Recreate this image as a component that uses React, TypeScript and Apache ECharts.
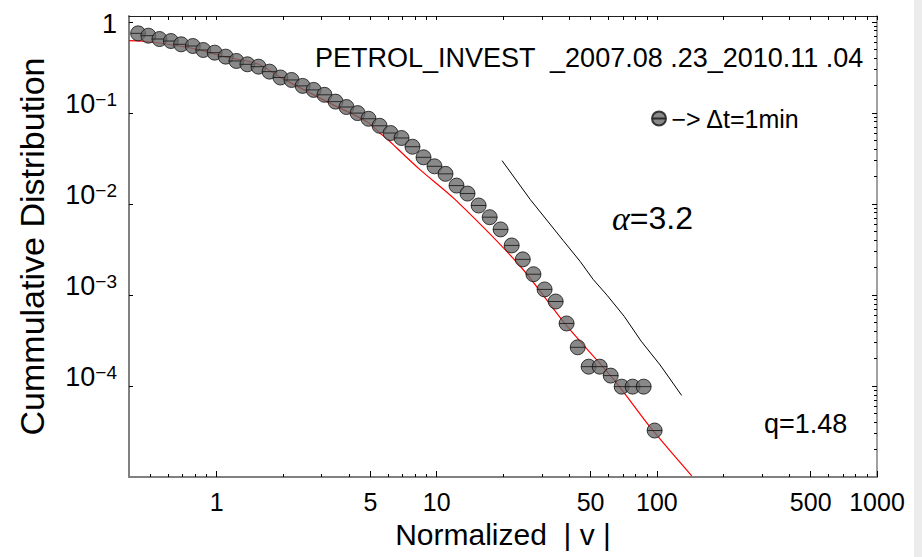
import React, { useEffect, useRef } from "react";
import * as echarts from "echarts";

const xVals = [0.44, 0.49, 0.55, 0.62, 0.69, 0.78, 0.87, 0.98, 1.10, 1.23, 1.38, 1.55, 1.74, 1.95, 2.19, 2.46, 2.76, 3.09, 3.47, 3.89, 4.37, 4.90, 5.50, 6.17, 6.92, 7.76, 8.71, 9.77, 10.96, 12.3, 13.8, 15.5, 17.4, 19.5, 21.9, 24.6, 27.5, 30.9, 34.7, 38.9, 43.7, 49.0, 55.0, 61.7, 69.2, 77.6, 87.1, 97.7];
const yVals = [0.748, 0.705, 0.648, 0.616, 0.567, 0.543, 0.491, 0.459, 0.415, 0.372, 0.342, 0.322, 0.284, 0.245, 0.230, 0.198, 0.179, 0.158, 0.133, 0.116, 0.0995, 0.0862, 0.0722, 0.0601, 0.0530, 0.0425, 0.0325, 0.0259, 0.0214, 0.0159, 0.0130, 0.00961, 0.00715, 0.00525, 0.00350, 0.00246, 0.00169, 0.00115, 0.000847, 0.000486, 0.000266, 0.000163, 0.000163, 0.000130, 0.0000983, 0.0000983, 0.0000983, 0.0000324];

// q-Gaussian fit (red)
const fitX = [0.40, 0.506, 0.77, 1.09, 1.55, 1.96, 3.27, 4.82, 5.52, 6.01, 6.58, 8.39, 12.1, 23.9, 39.0, 63.5, 93.3, 144];
const fitY = [0.621, 0.601, 0.513, 0.415, 0.342, 0.244, 0.128, 0.080, 0.0601, 0.0507, 0.0411, 0.0238, 0.0112, 0.00208, 0.000457, 0.000119, 0.0000353, 0.0000103];

// power-law guide line (alpha = 3.2)
const guideX = [19.8, 26.6, 37.5, 44.8, 51.3, 59.4, 71.0, 84.8, 103.5, 129.6];
const guideY = [0.0299, 0.01117, 0.003973, 0.002339, 0.001486, 0.000992, 0.000584, 0.000311, 0.000170, 0.0000787];

// ticks
const xMajor = [1, 5, 10, 50, 100, 500, 1000];
const xMinor = [0.5, 0.6, 0.7, 0.8, 0.9, 2, 3, 4, 6, 7, 8, 9, 20, 30, 40, 60, 70, 80, 90, 200, 300, 400, 600, 700, 800, 900];
const yMajor = [1, 0.1, 0.01, 0.001, 0.0001];
const yMinor = [
  0.00002, 0.00003, 0.00004, 0.00005, 0.00006, 0.00007, 0.00008, 0.00009,
  0.0002, 0.0003, 0.0004, 0.0005, 0.0006, 0.0007, 0.0008, 0.0009,
  0.002, 0.003, 0.004, 0.005, 0.006, 0.007, 0.008, 0.009,
  0.02, 0.03, 0.04, 0.05, 0.06, 0.07, 0.08, 0.09,
  0.2, 0.3, 0.4, 0.5, 0.6, 0.7, 0.8, 0.9,
];

const titleText = "PETROL_INVEST  _2007.08 .23_2010.11 .04";
const legendName = "\u2212> \u0394t=1min";
const xName = "Normalized  | v |";
const yName = "Cummulative Distribution";

const FONT = "'Liberation Sans', Arial, sans-serif";
const X_MIN = 0.4, X_MAX = 1000, Y_MIN = 1e-5, Y_MAX = 1.16;

export default function App() {
  const ref = useRef<HTMLDivElement>(null);
  useEffect(() => {
    if (!ref.current) return;
    const chart = echarts.init(ref.current, null, { renderer: "svg" });
    const markerPath = "path://M0,7A7,7,0,1,1,14,7A7,7,0,1,1,0,7ZM0,7L14,7";
    const baseX = { type: "log", logBase: 10, min: X_MIN, max: X_MAX, gridIndex: 0, splitLine: { show: false } };
    const baseY = { type: "log", logBase: 10, min: Y_MIN, max: Y_MAX, gridIndex: 0, splitLine: { show: false } };
    chart.setOption({
      animation: false,
      backgroundColor: "#ffffff",
      textStyle: { fontFamily: FONT },
      grid: { left: 129, right: 45, top: 16, bottom: 80, containLabel: false },
      legend: {
        data: [legendName],
        left: 646,
        top: 101,
        itemWidth: 15,
        itemHeight: 14,
        textStyle: { fontFamily: FONT, fontSize: 25, color: "#000" },
      },
      xAxis: [
        {
          ...baseX,
          position: "bottom",
          name: xName,
          nameLocation: "middle",
          nameGap: 42,
          nameTextStyle: { fontFamily: FONT, fontSize: 30, color: "#000" },
          axisLine: { show: true, lineStyle: { color: "#808080", width: 2 } },
          axisTick: { show: true, inside: true, length: 6, customValues: xMajor, lineStyle: { color: "#000", width: 1 } },
          axisLabel: {
            show: true, customValues: xMajor, margin: 12, fontSize: 25, color: "#000", fontFamily: FONT,
            hideOverlap: false,
            formatter: (v: number) => String(Math.round(v)),
          },
        },
        {
          ...baseX,
          position: "bottom",
          axisLine: { show: false },
          axisTick: { show: true, inside: true, length: 3, customValues: xMinor, lineStyle: { color: "#000", width: 1 } },
          axisLabel: { show: false },
        },
        {
          ...baseX,
          position: "top",
          axisLine: { show: true, lineStyle: { color: "#222", width: 1 } },
          axisTick: { show: true, inside: true, length: 4, customValues: xMajor.concat(xMinor), lineStyle: { color: "#000", width: 1 } },
          axisLabel: { show: false },
        },
      ],
      yAxis: [
        {
          ...baseY,
          position: "left",
          axisLine: { show: true, lineStyle: { color: "#808080", width: 2 } },
          axisTick: { show: true, inside: true, length: 4, customValues: yMajor, lineStyle: { color: "#000", width: 1 } },
          name: yName,
          nameLocation: "middle",
          nameGap: 80,
          nameTextStyle: { fontFamily: FONT, fontSize: 34, color: "#000" },
          axisLabel: {
            show: true,
            customValues: yMajor,
            margin: 12,
            fontSize: 28,
            color: "#000",
            fontFamily: FONT,
            padding: [0, 0, 18, 0],
            formatter: (v: number) => {
              if (v > 0.5) return "{one|1}";
              const k = Math.round(-Math.log10(v));
              return "{b|10}{s|\u2212" + k + "}";
            },
            rich: {
              one: { fontSize: 27, lineHeight: 50, verticalAlign: "bottom", color: "#000", fontFamily: FONT },
              b: { fontSize: 27, lineHeight: 28, verticalAlign: "bottom", color: "#000", fontFamily: FONT },
              s: { fontSize: 19, lineHeight: 12, verticalAlign: "top", color: "#000", fontFamily: FONT },
            },
          },
        },
        {
          ...baseY,
          position: "right",
          axisLine: { show: true, lineStyle: { color: "#808080", width: 1.5 } },
          axisTick: { show: true, inside: true, length: 5, customValues: yMajor, lineStyle: { color: "#000", width: 1 } },
          axisLabel: { show: false },
        },
        {
          ...baseY,
          position: "right",
          axisLine: { show: false },
          axisTick: { show: true, inside: true, length: 3, customValues: yMinor, lineStyle: { color: "#000", width: 1 } },
          axisLabel: { show: false },
        },
      ],
      series: [
        {
          type: "line",
          name: "fit",
          xAxisIndex: 0,
          yAxisIndex: 0,
          data: fitX.map((x, i) => [x, fitY[i]]),
          showSymbol: false,
          smooth: 0.3,
          clip: true,
          lineStyle: { color: "#ff0000", width: 1.2 },
          z: 2,
        },
        {
          type: "line",
          name: "guide",
          xAxisIndex: 0,
          yAxisIndex: 0,
          data: guideX.map((x, i) => [x, guideY[i]]),
          showSymbol: false,
          lineStyle: { color: "#000000", width: 1 },
          z: 2,
        },
        {
          type: "scatter",
          name: legendName,
          xAxisIndex: 0,
          yAxisIndex: 0,
          data: xVals.map((x, i) => [x, yVals[i]]),
          symbol: markerPath,
          symbolSize: 15,
          itemStyle: { color: "#6b6b6b", borderColor: "#111111", borderWidth: 1 },
          z: 3,
        },
      ],
      graphic: [
        { type: "rect", right: 0, top: 0, shape: { width: 8, height: 557 }, style: { fill: "#ececec" }, silent: true },
        {
          type: "text", left: 315, top: 44,
          style: { text: titleText, fontFamily: FONT, fontSize: 27, fill: "#000" },
        },
        {
          type: "text", left: 612, top: 201,
          style: {
            text: "{a|\u03b1}{b|=3.2}",
            rich: {
              a: { fontFamily: "'Liberation Serif', 'DejaVu Serif', serif", fontStyle: "italic", fontSize: 34, fill: "#000" },
              b: { fontFamily: FONT, fontSize: 32, fill: "#000" },
            },
          },
        },
        {
          type: "text", left: 764, top: 410,
          style: { text: "q=1.48", fontFamily: FONT, fontSize: 27, fill: "#000" },
        },
      ],
    });
    return () => chart.dispose();
  }, []);
  return <div ref={ref} style={{ position: "fixed", left: 0, top: 0, width: 922, height: 557 }} />;
}
